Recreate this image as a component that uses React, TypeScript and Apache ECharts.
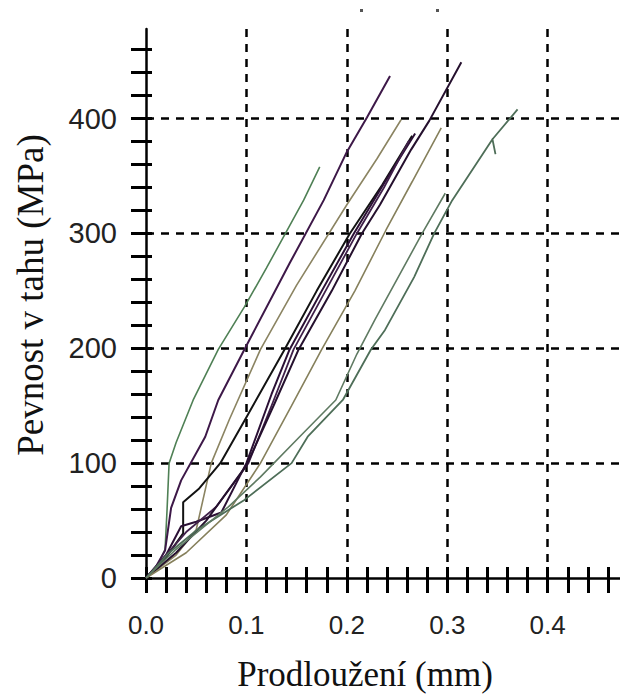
import React, { useEffect, useRef } from "react";
import * as echarts from "echarts";

// x: Prodloužení (mm), y: Pevnost v tahu (MPa)
const xLabelValues = [0, 0.1, 0.2, 0.3, 0.4];
const xTickValues = [0, 0.02, 0.04, 0.06, 0.08, 0.1, 0.12, 0.14, 0.16, 0.18, 0.2, 0.22, 0.24, 0.26, 0.28, 0.3, 0.32, 0.34, 0.36, 0.38, 0.4, 0.42, 0.44, 0.46];
const xGridValues = [0.1, 0.2, 0.3, 0.4];
const yLabelValues = [0, 100, 200, 300, 400];
const yTickValues = [0, 20, 40, 60, 80, 100, 120, 140, 160, 180, 200, 220, 240, 260, 280, 300, 320, 340, 360, 380, 400, 420, 440, 460];
const yGridValues = [100, 200, 300, 400];

const green1 = [[0, 0], [0.012, 12], [0.019, 25], [0.021, 60], [0.023, 100], [0.03, 118], [0.047, 155], [0.072, 199], [0.098, 236], [0.12, 270], [0.157, 329], [0.173, 358]];
const purpleA = [[0, 0], [0.01, 10], [0.019, 24], [0.025, 61], [0.035, 85], [0.059, 123], [0.072, 155], [0.098, 199], [0.143, 274], [0.177, 329], [0.2, 371], [0.22, 401], [0.243, 437]];
const oliveE = [[0, 0], [0.03, 20], [0.05, 42], [0.065, 100], [0.083, 138], [0.114, 199], [0.15, 255], [0.2, 325], [0.23, 365], [0.254, 399]];
const blackC1 = [[0, 0], [0.02, 18], [0.037, 39], [0.037, 66], [0.053, 78], [0.074, 100], [0.1, 140], [0.138, 199], [0.17, 250], [0.203, 300], [0.235, 342], [0.265, 385]];
const darkC2 = [[0, 0], [0.02, 20], [0.035, 45], [0.05, 49], [0.075, 57], [0.1, 100], [0.125, 160], [0.143, 199], [0.175, 250], [0.207, 300], [0.238, 345], [0.268, 387]];
const darkC3 = [[0, 0], [0.04, 40], [0.07, 62], [0.102, 100], [0.125, 150], [0.147, 199], [0.18, 252], [0.21, 300], [0.237, 340], [0.262, 381]];
const darkB = [[0, 0], [0.03, 22], [0.06, 50], [0.1, 98], [0.127, 150], [0.152, 199], [0.185, 250], [0.215, 300], [0.233, 325], [0.264, 373], [0.282, 398], [0.314, 449]];
const oliveD = [[0, 0], [0.04, 22], [0.08, 55], [0.114, 100], [0.145, 150], [0.175, 199], [0.208, 250], [0.239, 303], [0.265, 345], [0.294, 392]];
const greenF = [[0, 0], [0.023, 22], [0.051, 42], [0.098, 68], [0.145, 100], [0.161, 123], [0.196, 155], [0.224, 199], [0.238, 216], [0.267, 262], [0.287, 300], [0.305, 329], [0.345, 382], [0.348, 369], [0.345, 382], [0.37, 408]];
const greenG = [[0, 0], [0.03, 25], [0.082, 62], [0.114, 88], [0.153, 123], [0.189, 155], [0.21, 195], [0.228, 225], [0.275, 300], [0.298, 335]];

const curves = [
  { name: "green1", data: green1, color: "#4f8055", width: 1.6 },
  { name: "purpleA", data: purpleA, color: "#3d1848", width: 2 },
  { name: "oliveE", data: oliveE, color: "#8b8462", width: 1.6 },
  { name: "blackC1", data: blackC1, color: "#121212", width: 2 },
  { name: "darkC2", data: darkC2, color: "#2b1035", width: 2 },
  { name: "darkC3", data: darkC3, color: "#40204a", width: 1.8 },
  { name: "darkB", data: darkB, color: "#25102e", width: 2 },
  { name: "oliveD", data: oliveD, color: "#86805c", width: 1.6 },
  { name: "greenF", data: greenF, color: "#4e6e58", width: 1.8 },
  { name: "greenG", data: greenG, color: "#5f7a62", width: 1.6 },
];

const X_MAX = 0.472;
const Y_MAX = 478;

export default function App() {
  const ref = useRef<HTMLDivElement>(null);
  useEffect(() => {
    if (!ref.current) return;
    const chart = echarts.init(ref.current, null, { renderer: "svg" });
    const black = "#000";
    const dashed = { show: true, lineStyle: { color: black, width: 2.5, type: [8, 7] } };
    const baseX = { type: "value", min: 0, max: X_MAX, position: "bottom" };
    const baseY = { type: "value", min: 0, max: Y_MAX, position: "left" };
    chart.setOption({
      animation: false,
      backgroundColor: "#fff",
      grid: { left: 146, right: 0, top: 29, bottom: 119, containLabel: false },
      xAxis: [
        {
          ...baseX,
          axisLine: { show: true, lineStyle: { color: black, width: 2.5 } },
          axisTick: { show: true, customValues: xTickValues, length: 15, lineStyle: { color: black, width: 3 } },
          axisLabel: {
            show: true,
            customValues: xLabelValues,
            formatter: (v: number) => v.toFixed(1),
            fontFamily: "Liberation Sans",
            fontSize: 26,
            color: "#222",
            margin: 34,
          },
          splitLine: { show: false },
        },
        {
          ...baseX,
          axisLine: { show: false },
          axisTick: { show: true, inside: true, customValues: xTickValues, length: 11, lineStyle: { color: black, width: 3 } },
          axisLabel: { show: false },
          splitLine: { show: false },
        },
        {
          ...baseX,
          axisLine: { show: false },
          axisTick: { show: false, customValues: xGridValues },
          axisLabel: { show: false },
          splitLine: dashed,
        },
      ],
      yAxis: [
        {
          ...baseY,
          axisLine: { show: true, lineStyle: { color: black, width: 2.5 } },
          axisTick: { show: true, customValues: yTickValues, length: 15, lineStyle: { color: black, width: 3 } },
          axisLabel: {
            show: true,
            customValues: yLabelValues,
            fontFamily: "Liberation Sans",
            fontSize: 29,
            color: "#222",
            margin: 29,
          },
          splitLine: { show: false },
        },
        {
          ...baseY,
          axisLine: { show: false },
          axisTick: { show: true, inside: true, customValues: yTickValues, length: 6, lineStyle: { color: black, width: 3 } },
          axisLabel: { show: false },
          splitLine: { show: false },
        },
        {
          ...baseY,
          axisLine: { show: false },
          axisTick: { show: false, customValues: yGridValues },
          axisLabel: { show: false },
          splitLine: dashed,
        },
      ],
      graphic: [
        {
          type: "text",
          x: 365,
          y: 674,
          style: {
            text: "Prodloužení (mm)",
            font: '35px "Liberation Serif"',
            fill: "#111",
            align: "center",
            verticalAlign: "middle",
          },
        },
        {
          type: "text",
          x: 30,
          y: 295,
          rotation: Math.PI / 2,
          style: {
            text: "Pevnost v tahu (MPa)",
            font: '37px "Liberation Serif"',
            fill: "#111",
            align: "center",
            verticalAlign: "middle",
          },
        },
        { type: "rect", shape: { x: 360, y: 9, width: 3, height: 3 }, style: { fill: "#555" } },
        { type: "rect", shape: { x: 436, y: 9, width: 3, height: 3 }, style: { fill: "#555" } },
      ],
      series: curves.map((c) => ({
        name: c.name,
        type: "line",
        xAxisIndex: 0,
        yAxisIndex: 0,
        data: c.data,
        showSymbol: false,
        symbol: "none",
        lineStyle: { color: c.color, width: c.width },
        z: 3,
      })),
    });
    return () => chart.dispose();
  }, []);
  return (
    <div
      ref={ref}
      style={{ position: "absolute", left: 0, top: 0, width: 620, height: 697, background: "#fff" }}
    />
  );
}
